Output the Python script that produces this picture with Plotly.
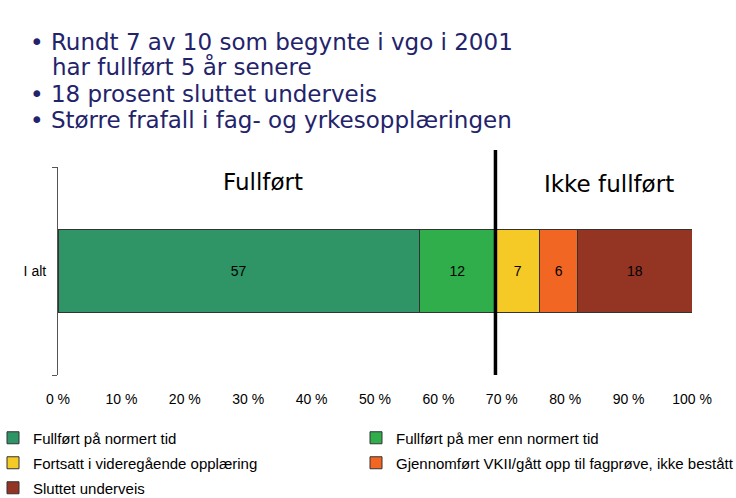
import plotly.graph_objects as go

categories = ["I alt"]
series_names = ["Fullført på normert tid", "Fullført på mer enn normert tid",
                "Fortsatt i videregående opplæring",
                "Gjennomført VKII/gått opp til fagprøve, ikke bestått",
                "Sluttet underveis"]
series_values = [57, 12, 7, 6, 18]
series_colors = ["#2f9466", "#2fae4b", "#f5c926", "#f26623", "#943422"]
divider_at = 69
x_ticks = [0, 10, 20, 30, 40, 50, 60, 70, 80, 90, 100]
x_ticklabels = [f"{t} %" for t in x_ticks]
bullets = ["• Rundt 7 av 10 som begynte i vgo i 2001",
           "   har fullført 5 år senere",
           "• 18 prosent sluttet underveis",
           "• Større frafall i fag- og yrkesopplæringen"]

W, H = 736, 498
ML, MR, MT, MB = 58, 44, 167, 123
plot_w = W - ML - MR
plot_h = H - MT - MB

# legend slot (left px, row centre px) for each series
legend_ids = ["legend", "legend2", "legend3", "legend4", "legend5"]
legend_pos = [(-7, 438), (356, 438), (-7, 463), (356, 463), (-7, 488)]

fig = go.Figure()
for name, val, col, lg in zip(series_names, series_values, series_colors, legend_ids):
    fig.add_trace(go.Bar(
        y=categories, x=[val], name=name, orientation="h", legend=lg,
        marker=dict(color=col, line=dict(color="#333333", width=1)),
        width=0.4, text=[str(val)], textposition="inside", insidetextanchor="middle",
        textfont=dict(family="Liberation Sans, Arial", size=14, color="black"),
    ))

fig.add_shape(type="line", xref="x", yref="paper", x0=divider_at, x1=divider_at,
              y0=0, y1=(H - MB - 150) / plot_h, line=dict(color="black", width=3.5))

fig.add_annotation(x=(263 - ML) / plot_w, y=(H - MB - 182) / plot_h, xref="paper", yref="paper",
                   text="Fullført", showarrow=False, xanchor="center", yanchor="middle",
                   font=dict(family="DejaVu Sans", size=23, color="black"))
fig.add_annotation(x=(609 - ML) / plot_w, y=(H - MB - 184) / plot_h, xref="paper", yref="paper",
                   text="Ikke fullført", showarrow=False, xanchor="center", yanchor="middle",
                   font=dict(family="DejaVu Sans", size=23, color="black"))

ys = [42, 67, 94, 120]
for txt, yp in zip(bullets, ys):
    fig.add_annotation(x=(28 - ML) / plot_w, y=(H - MB - yp) / plot_h, xref="paper", yref="paper",
                       text=txt, showarrow=False, xanchor="left", yanchor="middle",
                       font=dict(family="DejaVu Sans", size=23, color="#23236b"))

legends = {}
for lg, (px, py) in zip(legend_ids, legend_pos):
    legends[lg] = dict(orientation="h", xref="paper", yref="container",
                       x=(px - ML) / plot_w, y=1 - py / H, xanchor="left", yanchor="middle",
                       itemwidth=30, bgcolor="rgba(0,0,0,0)",
                       font=dict(family="Liberation Sans, Arial", size=15, color="black"))

fig.update_layout(
    barmode="stack", width=W, height=H,
    margin=dict(l=ML, r=MR, t=MT, b=MB, autoexpand=False),
    plot_bgcolor="white", paper_bgcolor="white",
    xaxis=dict(range=[0, 100], tickvals=x_ticks, ticktext=x_ticklabels,
               showgrid=False, zeroline=False, showline=False, ticks="",
               ticklabelstandoff=14,
               tickfont=dict(family="Liberation Sans, Arial", size=14, color="black")),
    yaxis=dict(showline=True, linecolor="#555555", linewidth=1, ticks="outside",
               tickson="boundaries", ticklen=5, tickcolor="#555555", range=[-0.5, 0.5],
               ticklabelstandoff=8,
               tickfont=dict(family="Liberation Sans, Arial", size=14, color="black"),
               showgrid=False),
    showlegend=True,
    **legends,
)

fig.write_html("out.html")
